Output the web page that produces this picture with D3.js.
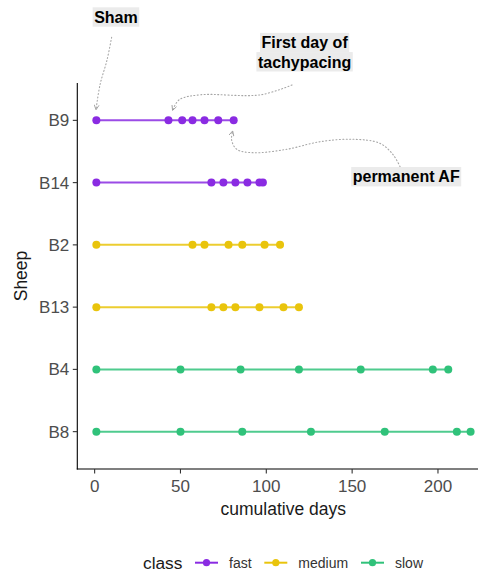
<!DOCTYPE html>
<html>
<head>
<meta charset="utf-8">
<script src="https://cdn.jsdelivr.net/npm/d3@7"></script>
<style>
	body { margin: 0; background: #fff; }
	svg { display: block; font-family: "Liberation Sans", Arial, sans-serif; }
	.tick-label { fill: #4d4d4d; font-size: 17px; }
	.axis-title { fill: #1a1a1a; font-size: 17.5px; }
	.note { font-size: 16px; font-weight: bold; fill: #000; }
	.note-bg { fill: #ebebeb; }
	.arrow { fill: none; stroke: #a6a6a6; stroke-width: 1.1; stroke-dasharray: 1 2.4; stroke-linecap: round; }
</style>
</head>
<body>
<script>
// - data -

var sheep = ['B9', 'B14', 'B2', 'B13', 'B4', 'B8'];
var sheepClass = ['fast', 'fast', 'medium', 'medium', 'slow', 'slow'];

var daysB9  = [1, 43, 51, 57, 64, 72, 81];
var daysB14 = [1, 68, 75, 82, 89, 96, 98];
var daysB2  = [1, 57, 64, 78, 86, 99, 108];
var daysB13 = [1, 68, 75, 82, 96, 110, 119];
var daysB4  = [1, 50, 85, 119, 155, 197, 206];
var daysB8  = [1, 50, 86, 126, 169, 211, 219];

var classes = ['fast', 'medium', 'slow'];
var classColors = ['#8a2be2', '#e9c40c', '#30c27a'];

var xTicks = [0, 50, 100, 150, 200];

// annotations in data units: day, row offset from B9
var notes = [
	{ lines: ['Sham'], day: 12.4, row: -1.66 },
	{ lines: ['First day of', 'tachypacing'], day: 122.3, row: -1.095 },
	{ lines: ['permanent AF'], day: 181.5, row: 0.905 }
];

var arrows = [
	[[9.9, -1.334], [7.2, -0.969], [3.1, -0.567], [0.8, -0.17]],
	[[115.0, -0.568], [96.6, -0.41], [61.4, -0.41], [49.2, -0.33], [45.4, -0.16]],
	[[177.9, 0.744], [174.0, 0.557], [166.2, 0.369], [150.7, 0.304], [131.3, 0.343],
	 [111.9, 0.465], [92.4, 0.52], [82.8, 0.465], [79.8, 0.316], [80.4, 0.17]]
];

// - setup -

var width = 478;
var height = 572;

var panel = { left: 77.3, right: 489.3, top: 83, bottom: 469 };

var svg = d3.select('body').append('svg')
	.attr('width', width)
	.attr('height', height);

var x = d3.scaleLinear()
	.domain([-10.1, 229.9])
	.range([panel.left, panel.right]);

var y = d3.scalePoint()
	.domain(sheep)
	.range([panel.top, panel.bottom])
	.padding(0.6);

var yRow = d3.scaleLinear()
	.domain([0, 1])
	.range([y('B9'), y('B14')]);

var color = d3.scaleOrdinal().domain(classes).range(classColors);

var series = [daysB9, daysB14, daysB2, daysB13, daysB4, daysB8].map(function(d, i) {
	return { sheep: sheep[i], cls: sheepClass[i], days: d };
});

// - axes -

svg.append('line')
	.attr('x1', panel.left).attr('x2', panel.left)
	.attr('y1', panel.top).attr('y2', panel.bottom + 0.5)
	.attr('stroke', '#000').attr('stroke-width', 1.1);

svg.append('line')
	.attr('x1', panel.left - 0.5).attr('x2', panel.right)
	.attr('y1', panel.bottom).attr('y2', panel.bottom)
	.attr('stroke', '#000').attr('stroke-width', 1.1);

var yt = svg.append('g').selectAll('g').data(sheep).enter().append('g');
yt.append('line')
	.attr('x1', panel.left - 4.5).attr('x2', panel.left)
	.attr('y1', function(d) { return y(d); })
	.attr('y2', function(d) { return y(d); })
	.attr('stroke', '#333').attr('stroke-width', 1.1);
yt.append('text')
	.attr('class', 'tick-label')
	.attr('x', panel.left - 8)
	.attr('y', function(d) { return y(d); })
	.attr('dy', '0.35em')
	.attr('text-anchor', 'end')
	.text(function(d) { return d; });

var xt = svg.append('g').selectAll('g').data(xTicks).enter().append('g');
xt.append('line')
	.attr('x1', function(d) { return x(d); })
	.attr('x2', function(d) { return x(d); })
	.attr('y1', panel.bottom).attr('y2', panel.bottom + 4.5)
	.attr('stroke', '#333').attr('stroke-width', 1.1);
xt.append('text')
	.attr('class', 'tick-label')
	.attr('x', function(d) { return x(d); })
	.attr('y', panel.bottom + 17)
	.attr('dy', '0.35em')
	.attr('text-anchor', 'middle')
	.text(function(d) { return d; });

svg.append('text')
	.attr('class', 'axis-title')
	.attr('x', (panel.left + panel.right) / 2)
	.attr('y', 515)
	.attr('text-anchor', 'middle')
	.text('cumulative days');

svg.append('text')
	.attr('class', 'axis-title')
	.attr('transform', 'translate(27,' + ((panel.top + panel.bottom) / 2) + ') rotate(-90)')
	.attr('text-anchor', 'middle')
	.text('Sheep');

// - series -

var gs = svg.append('g').selectAll('g').data(series).enter().append('g');

gs.append('line')
	.attr('x1', function(d) { return x(d3.min(d.days)); })
	.attr('x2', function(d) { return x(d3.max(d.days)); })
	.attr('y1', function(d) { return y(d.sheep); })
	.attr('y2', function(d) { return y(d.sheep); })
	.attr('stroke', function(d) { return color(d.cls); })
	.attr('stroke-opacity', 0.85)
	.attr('stroke-width', 2);

gs.selectAll('circle')
	.data(function(d) { return d.days.map(function(v) { return { v: v, s: d.sheep, c: d.cls }; }); })
	.enter().append('circle')
		.attr('cx', function(d) { return x(d.v); })
		.attr('cy', function(d) { return y(d.s); })
		.attr('r', 4)
		.attr('fill', function(d) { return color(d.c); });

// - annotations -

svg.append('defs').append('marker')
	.attr('id', 'head')
	.attr('viewBox', '0 0 10 10')
	.attr('refX', 9).attr('refY', 5)
	.attr('markerWidth', 6).attr('markerHeight', 6)
	.attr('markerUnits', 'userSpaceOnUse')
	.attr('orient', 'auto')
	.append('path')
		.attr('d', 'M1,1 L9,5 L1,9')
		.attr('fill', 'none')
		.attr('stroke', '#999')
		.attr('stroke-width', 1.4);

var arrowLine = d3.line()
	.x(function(d) { return x(d[0]); })
	.y(function(d) { return yRow(d[1]); })
	.curve(d3.curveCatmullRom.alpha(0.5));

svg.append('g').selectAll('path').data(arrows).enter().append('path')
	.attr('class', 'arrow')
	.attr('d', arrowLine)
	.attr('marker-end', 'url(#head)');

var lineGap = 19.2;
notes.forEach(function(n) {
	var cx = x(n.day);
	var cy = yRow(n.row);
	n.lines.forEach(function(t, i) {
		var ly = cy + (i - (n.lines.length - 1) / 2) * lineGap;
		var bg = svg.append('rect').attr('class', 'note-bg');
		var txt = svg.append('text')
			.attr('class', 'note')
			.attr('x', cx)
			.attr('y', ly)
			.attr('dy', '0.36em')
			.attr('text-anchor', 'middle')
			.text(t);
		var w = txt.node().getComputedTextLength();
		bg.attr('x', cx - w / 2 - 1.5)
			.attr('y', ly - 9.7)
			.attr('width', w + 3)
			.attr('height', 19.4);
	});
});

// - legend -

var legY = 562.7;

svg.append('text')
	.attr('x', 143)
	.attr('y', legY)
	.attr('dy', '0.35em')
	.attr('font-size', '17.3px')
	.attr('fill', '#1a1a1a')
	.text('class');

var legX = [195, 264.3, 361];
var lg = svg.append('g').selectAll('g').data(classes).enter().append('g')
	.attr('transform', function(d, i) { return 'translate(' + legX[i] + ',' + legY + ')'; });

lg.append('line')
	.attr('x1', 0).attr('x2', 23)
	.attr('stroke', function(d) { return color(d); })
	.attr('stroke-width', 2);
lg.append('circle')
	.attr('cx', 11.5)
	.attr('r', 3.6)
	.attr('fill', function(d) { return color(d); });
lg.append('text')
	.attr('x', 34)
	.attr('dy', '0.35em')
	.attr('font-size', '14px')
	.attr('fill', '#333')
	.text(function(d) { return d; });
</script>
</body>
</html>
